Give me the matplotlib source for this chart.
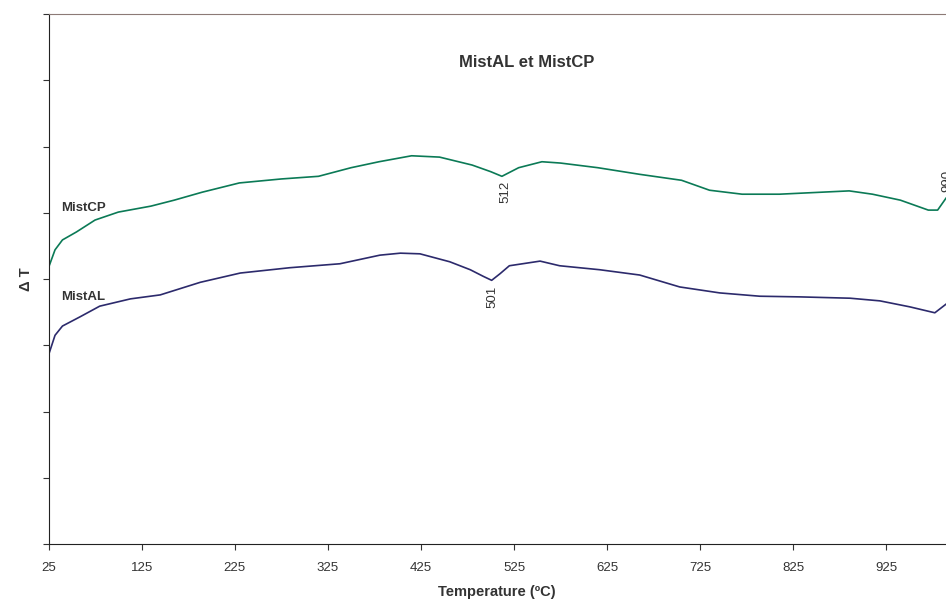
import matplotlib.pyplot as plt

plt.rcParams['font.family'] = ['Liberation Sans', 'DejaVu Sans']

# MistCP (green) and MistAL (navy) thermal curves, arbitrary Delta T units
cp_temp = [25, 32, 40, 55, 75, 100, 135, 160, 190, 230, 275, 315, 350, 380, 415, 445,
           480, 500, 512, 530, 555, 575, 615, 660, 705, 735, 770, 810, 855, 885, 910,
           940, 970, 980, 989]
cp_val = [4.17, 4.44, 4.59, 4.71, 4.89, 5.01, 5.10, 5.19, 5.31, 5.45, 5.51, 5.55, 5.68,
          5.77, 5.86, 5.84, 5.72, 5.62, 5.55, 5.68, 5.77, 5.75, 5.68, 5.58, 5.49, 5.34,
          5.28, 5.28, 5.31, 5.33, 5.28, 5.19, 5.04, 5.04, 5.22]

al_temp = [25, 32, 40, 59, 80, 113, 145, 188, 231, 284, 338, 381, 403, 424, 456, 478,
           492, 501, 510, 520, 553, 574, 617, 660, 703, 746, 789, 832, 886, 918, 950,
           977, 989]
al_val = [2.85, 3.15, 3.29, 3.43, 3.59, 3.70, 3.76, 3.95, 4.09, 4.17, 4.23, 4.36, 4.39,
          4.38, 4.26, 4.14, 4.04, 3.98, 4.08, 4.20, 4.27, 4.20, 4.14, 4.06, 3.88, 3.79,
          3.74, 3.73, 3.71, 3.67, 3.58, 3.49, 3.62]

x_ticks = [25, 125, 225, 325, 425, 525, 625, 725, 825, 925]

txt = '#333333'
fig = plt.figure(figsize=(9.46, 5.99), dpi=100)
ax = fig.add_axes([48.5 / 946, 1 - 544 / 599, 1 - 48.5 / 946, (544 - 14) / 599])

ax.plot(cp_temp, cp_val, color='#0b7a56', linewidth=1.2)
ax.plot(al_temp, al_val, color='#2c2a6c', linewidth=1.2)

ax.set_xlim(25, 989)
ax.set_ylim(0, 8)
ax.set_xticks(x_ticks)
ax.set_yticks(range(0, 9))
ax.set_yticklabels([])
ax.tick_params(axis='x', length=4, color='#333333', labelsize=9.5, labelcolor=txt, pad=9)
ax.tick_params(axis='y', length=4, color='#333333')

ax.spines['right'].set_visible(False)
ax.spines['top'].set_color('#8c7a76')
ax.spines['left'].set_color('#222222')
ax.spines['bottom'].set_color('#222222')

ax.set_xlabel('Temperature (ºC)', fontsize=10.5, fontweight='bold', color=txt, labelpad=8)
ax.set_ylabel('Δ T', fontsize=10.5, fontweight='bold', color=txt, labelpad=4)
ax.text(539, 7.27, 'MistAL et MistCP', fontsize=12, fontweight='bold', color=txt,
        ha='center', va='center')

ax.text(39, 5.07, 'MistCP', fontsize=9.5, fontweight='bold', color=txt, va='center')
ax.text(39, 3.73, 'MistAL', fontsize=9.5, fontweight='bold', color=txt, va='center')
ax.text(516, 5.48, '512', fontsize=9.5, rotation=90, color=txt, ha='center', va='top')
ax.text(502, 3.90, '501', fontsize=9.5, rotation=90, color=txt, ha='center', va='top')
ax.text(991, 5.48, '990', fontsize=9.5, rotation=90, color=txt, ha='center', va='center',
        clip_on=False)

fig.savefig('out.png', dpi=100)
